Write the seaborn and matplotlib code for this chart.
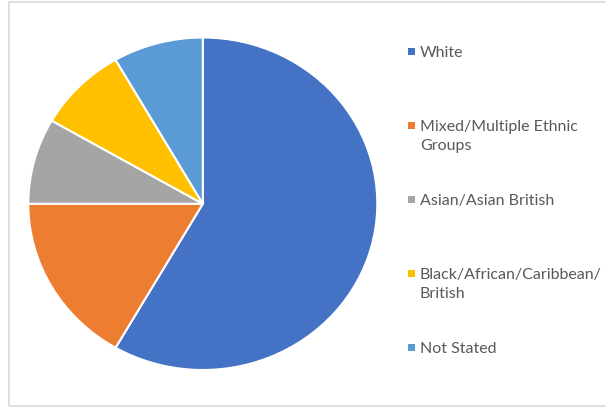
import matplotlib
matplotlib.use("Agg")
import matplotlib.pyplot as plt
from matplotlib.patches import Rectangle
import seaborn as sns

# data (twelfths of the total)
groups = ["White", "Mixed/Multiple Ethnic\nGroups", "Asian/Asian British",
          "Black/African/Caribbean/\nBritish", "Not Stated"]
shares = [7, 2, 1, 1, 1]
colors = ["#4472C4", "#ED7D31", "#A5A5A5", "#FFC000", "#5B9BD5"]

sns.set_theme(style="white")
plt.rcParams['font.family'] = ['Lato', 'DejaVu Sans']

W, H = 606, 407
fig = plt.figure(figsize=(W / 100, H / 100), dpi=100)
fig.patch.set_facecolor("white")

# pie is slightly stretched horizontally in the reference
x0, x1, y0, y1 = 28.3, 377.3, 37.5, 370.0
ax = fig.add_axes([x0 / W, 1 - y1 / H, (x1 - x0) / W, (y1 - y0) / H])
ax.pie(shares, colors=colors, startangle=90, counterclock=False,
       wedgeprops=dict(edgecolor="white", linewidth=1.5))
ax.set_aspect("auto")
ax.set_xlim(-1, 1)
ax.set_ylim(-1, 1)
ax.axis("off")

# outer frame
fig.add_artist(Rectangle((8.5 / W, 1 - 405.5 / H), (W + 5) / W, 404 / H,
                         transform=fig.transFigure, fill=False,
                         edgecolor="#D9D9D9", linewidth=1.2))

# legend drawn by hand so the marker sits on the first line
text_color = "#595959"
first_baseline = 56.7
step = 74.0
line_h = 19.0
for i, (lab, col) in enumerate(zip(groups, colors)):
    base = first_baseline + i * step
    fig.add_artist(Rectangle((408.3 / W, 1 - (base - 1.7) / H), 6.7 / W, 6.7 / H,
                             transform=fig.transFigure, facecolor=col,
                             edgecolor="none"))
    for j, line in enumerate(lab.split("\n")):
        fig.text(420 / W, 1 - (base + j * line_h) / H, line, fontsize=11.5,
                 color=text_color, ha="left", va="baseline")

fig.savefig("out.png", dpi=100)
